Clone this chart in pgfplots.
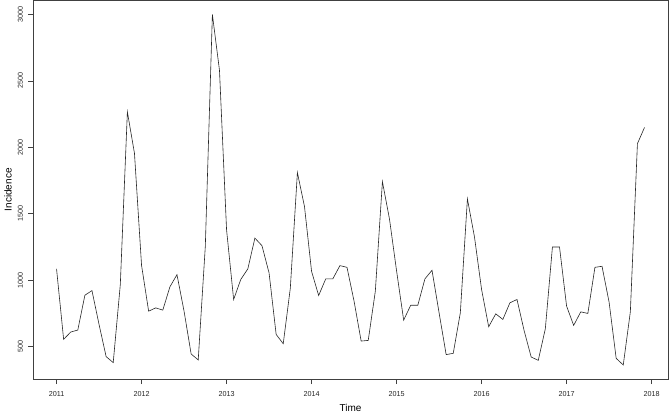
\documentclass[border=0pt]{standalone}
\usepackage{fontspec}
\setmainfont{Liberation Sans}
\usepackage{pgfplots}
\pgfplotsset{compat=1.18}
\usepackage{pgfplotstable}
\pgfplotstableread{
y
1085
555
610
625
887
922
667
425
380
967
2267
1955
1112
767
792
775
950
1042
767
445
400
1255
3000
2580
1380
855
1005
1085
1317
1260
1055
592
522
940
1810
1555
1067
885
1010
1010
1110
1097
842
542
547
917
1742
1460
1070
700
812
812
1010
1075
755
440
450
755
1612
1325
930
650
747
705
830
855
622
422
397
635
1250
1250
805
660
762
750
1097
1105
835
412
362
762
2028
2150
}\datatable
\begin{document}
\begin{tikzpicture}
\begin{axis}[
  at={(0,0)}, anchor=south west,
  scale only axis,
  width=635pt, height=378.5pt,
  xmin=2010.723, xmax=2018.193,
  ymin=256.5, ymax=3105.5,
  axis line style={black!75, line width=0.6pt},
  axis x line*=bottom, axis y line*=left,
  xtick={2011,2012,...,2018},
  ytick={500,1000,...,3000},
  tick align=outside,
  major tick length=5pt,
  tick style={black!75, line width=0.6pt},
  /pgf/number format/assume math mode=true,
  /pgf/number format/1000 sep={},
  tick label style={font=\fontsize{7.2}{8}\selectfont, text=black!85},
  yticklabel style={xshift=-5pt, rotate=90, anchor=south, inner sep=0pt},
  xticklabel style={yshift=-10pt, anchor=center, inner sep=0pt},
  xlabel={Time},
  ylabel={Incidence},
  label style={font=\fontsize{7.2}{8}\selectfont, text=black!85},
  every axis x label/.style={at={(axis description cs:0.5,0)}, yshift=-29pt, anchor=center},
  every axis y label/.style={at={(axis description cs:0,0.5)}, xshift=-25pt, rotate=90, anchor=center},
  clip=false,
]
\draw[black!75, line width=0.6pt] (rel axis cs:0,0) rectangle (rel axis cs:1,1);
\addplot[black!85, line width=0.6pt, mark=none] table[x expr={2011+\coordindex/12}, y=y] {\datatable};
\end{axis}
\pgfresetboundingbox
\path[use as bounding box] (-33pt,-34pt) rectangle (636pt,379pt);
\end{tikzpicture}
\end{document}
